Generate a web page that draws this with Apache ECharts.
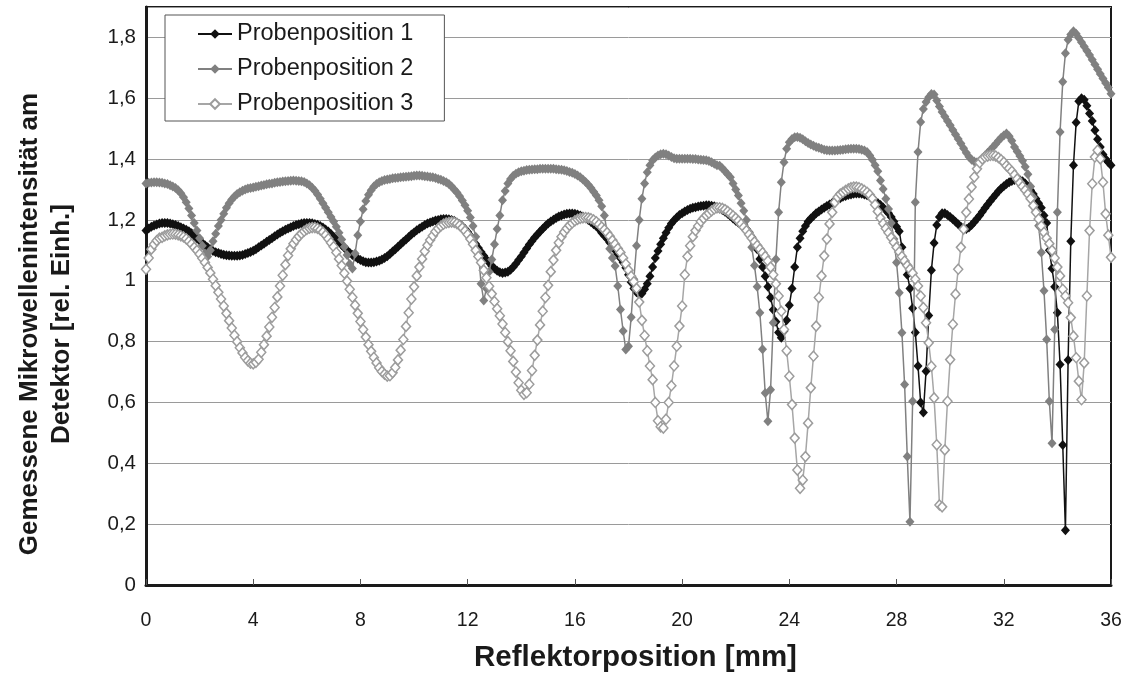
<!DOCTYPE html>
<html>
<head>
<meta charset="utf-8">
<script src="https://cdn.jsdelivr.net/npm/echarts@6/dist/echarts.min.js"></script>
<style>
html,body{margin:0;padding:0;background:#fff;}
#chart{width:1130px;height:673px;}
</style>
</head>
<body>
<div id="chart"></div>
<script>
// Sampling positions of the reflector (mm): start and step of the measurement grid
const xStart = 0;
const xStep = 0.1;

const seriesNames = ['Probenposition 1', 'Probenposition 2', 'Probenposition 3'];
const xTickValues = [0, 4, 8, 12, 16, 20, 24, 28, 32, 36];
const yTickValues = [0, 0.2, 0.4, 0.6, 0.8, 1, 1.2, 1.4, 1.6, 1.8];

const probe1 = [
1.165,1.172,1.178,1.182,1.185,1.188,1.19,1.19,1.19,1.188,
1.186,1.183,1.18,1.176,1.172,1.168,1.163,1.156,1.148,1.14,
1.132,1.124,1.117,1.11,1.104,1.098,1.094,1.091,1.088,1.086,
1.084,1.083,1.082,1.082,1.082,1.083,1.085,1.088,1.091,1.095,
1.099,1.104,1.11,1.116,1.122,1.128,1.134,1.14,1.146,1.152,
1.158,1.163,1.168,1.172,1.176,1.18,1.183,1.186,1.188,1.19,
1.19,1.19,1.189,1.187,1.184,1.18,1.175,1.169,1.162,1.154,
1.145,1.136,1.127,1.118,1.109,1.1,1.092,1.085,1.079,1.073,
1.068,1.064,1.061,1.06,1.06,1.061,1.063,1.066,1.07,1.075,
1.081,1.088,1.096,1.104,1.112,1.12,1.128,1.136,1.144,1.152,
1.159,1.166,1.172,1.178,1.183,1.188,1.192,1.195,1.198,1.2,
1.202,1.203,1.203,1.202,1.2,1.197,1.192,1.186,1.179,1.17,
1.16,1.148,1.135,1.121,1.108,1.095,1.082,1.07,1.06,1.049,
1.04,1.033,1.028,1.026,1.027,1.03,1.036,1.045,1.056,1.068,
1.08,1.093,1.106,1.119,1.131,1.142,1.152,1.162,1.171,1.18,
1.188,1.195,1.201,1.206,1.211,1.215,1.218,1.22,1.221,1.221,
1.22,1.218,1.215,1.211,1.206,1.2,1.193,1.186,1.179,1.17,
1.158,1.148,1.138,1.126,1.113,1.1,1.087,1.074,1.06,1.043,
1.02,0.995,0.975,0.962,0.956,0.958,0.972,0.99,1.015,1.045,
1.075,1.098,1.12,1.14,1.158,1.174,1.188,1.199,1.208,1.216,
1.222,1.228,1.233,1.237,1.24,1.242,1.244,1.246,1.247,1.248,
1.248,1.247,1.245,1.242,1.238,1.233,1.227,1.22,1.213,1.205,
1.197,1.191,1.185,1.179,1.17,1.158,1.144,1.125,1.104,1.072,
1.045,1.015,0.98,0.945,0.905,0.865,0.83,0.813,0.835,0.87,
0.92,0.975,1.045,1.11,1.14,1.163,1.18,1.195,1.205,1.213,
1.222,1.228,1.234,1.24,1.246,1.251,1.256,1.261,1.266,1.271,
1.276,1.279,1.282,1.284,1.286,1.287,1.287,1.286,1.284,1.281,
1.277,1.27,1.263,1.256,1.249,1.241,1.232,1.222,1.21,1.195,
1.178,1.163,1.11,1.06,1.02,0.975,0.91,0.83,0.72,0.60,
0.567,0.703,0.886,1.035,1.124,1.183,1.21,1.222,1.222,1.216,
1.21,1.202,1.194,1.186,1.178,1.172,1.17,1.175,1.183,1.193,
1.204,1.215,1.227,1.239,1.251,1.262,1.273,1.284,1.294,1.303,
1.311,1.318,1.324,1.328,1.331,1.332,1.331,1.327,1.32,1.31,
1.298,1.285,1.27,1.255,1.24,1.215,1.19,1.10,1.04,0.98,
0.895,0.725,0.46,0.18,0.74,1.13,1.38,1.52,1.59,1.60,
1.595,1.575,1.55,1.525,1.495,1.465,1.44,1.415,1.40,1.39,
1.38
];

const probe2 = [
1.32,1.322,1.323,1.324,1.324,1.323,1.322,1.32,1.318,1.314,
1.31,1.305,1.298,1.288,1.275,1.258,1.238,1.215,1.19,1.165,
1.14,1.115,1.09,1.08,1.10,1.13,1.155,1.18,1.2,1.22,
1.24,1.255,1.267,1.277,1.285,1.291,1.296,1.3,1.303,1.305,
1.307,1.309,1.311,1.313,1.315,1.317,1.319,1.32,1.322,1.324,
1.325,1.326,1.327,1.328,1.329,1.33,1.329,1.328,1.327,1.325,
1.32,1.314,1.306,1.296,1.284,1.27,1.255,1.24,1.225,1.21,
1.195,1.178,1.158,1.136,1.112,1.085,1.055,1.04,1.09,1.15,
1.195,1.235,1.262,1.283,1.298,1.31,1.318,1.324,1.328,1.331,
1.333,1.335,1.337,1.338,1.339,1.34,1.341,1.342,1.343,1.344,
1.345,1.346,1.346,1.345,1.344,1.343,1.341,1.34,1.338,1.335,
1.332,1.328,1.324,1.318,1.31,1.3,1.29,1.278,1.264,1.248,
1.23,1.208,1.18,1.145,1.095,0.99,0.935,0.975,1.03,1.07,
1.12,1.17,1.215,1.265,1.295,1.32,1.335,1.345,1.352,1.357,
1.36,1.362,1.364,1.365,1.366,1.367,1.367,1.368,1.368,1.368,
1.368,1.368,1.368,1.367,1.366,1.365,1.363,1.361,1.358,1.355,
1.351,1.346,1.34,1.333,1.325,1.316,1.305,1.293,1.28,1.265,
1.245,1.215,1.16,1.105,1.075,1.049,0.983,0.906,0.835,0.774,
0.785,0.88,1.005,1.115,1.2,1.27,1.32,1.357,1.38,1.396,
1.405,1.412,1.416,1.418,1.416,1.412,1.407,1.403,1.401,1.401,
1.401,1.401,1.401,1.401,1.4,1.4,1.399,1.398,1.397,1.396,
1.394,1.39,1.385,1.38,1.378,1.37,1.36,1.35,1.34,1.32,
1.30,1.28,1.255,1.23,1.2,1.16,1.11,1.05,0.98,0.895,
0.775,0.631,0.538,0.642,0.862,1.071,1.225,1.324,1.39,1.434,
1.455,1.466,1.472,1.473,1.47,1.465,1.459,1.453,1.448,1.444,
1.44,1.437,1.434,1.431,1.429,1.428,1.428,1.428,1.429,1.43,
1.431,1.432,1.433,1.434,1.434,1.434,1.433,1.431,1.428,1.423,
1.412,1.398,1.38,1.36,1.33,1.302,1.27,1.236,1.19,1.137,
1.06,0.961,0.829,0.659,0.422,0.208,0.604,1.258,1.423,1.522,
1.565,1.588,1.603,1.614,1.612,1.593,1.573,1.555,1.54,1.525,
1.511,1.496,1.481,1.466,1.451,1.436,1.421,1.408,1.398,1.392,
1.39,1.395,1.403,1.412,1.421,1.43,1.44,1.45,1.46,1.47,
1.478,1.484,1.475,1.46,1.44,1.425,1.41,1.395,1.375,1.35,
1.31,1.275,1.23,1.181,1.093,0.967,0.807,0.604,0.466,0.84,
1.225,1.489,1.654,1.748,1.792,1.81,1.82,1.812,1.798,1.784,
1.77,1.756,1.742,1.727,1.711,1.695,1.68,1.665,1.65,1.635,
1.615
];

const probe3 = [
1.038,1.075,1.104,1.12,1.132,1.14,1.143,1.148,1.151,1.153,
1.154,1.153,1.151,1.148,1.144,1.138,1.13,1.121,1.11,1.1,
1.088,1.074,1.06,1.044,1.026,1.005,0.984,0.962,0.94,0.917,
0.893,0.869,0.845,0.821,0.8,0.78,0.763,0.748,0.737,0.729,
0.727,0.732,0.742,0.765,0.79,0.818,0.848,0.88,0.912,0.947,
0.983,1.018,1.053,1.083,1.105,1.122,1.135,1.146,1.155,1.163,
1.169,1.173,1.175,1.175,1.172,1.167,1.16,1.15,1.138,1.125,
1.112,1.093,1.072,1.05,1.025,0.999,0.972,0.946,0.92,0.893,
0.866,0.84,0.815,0.79,0.768,0.748,0.73,0.714,0.702,0.693,
0.687,0.688,0.698,0.715,0.74,0.772,0.807,0.85,0.895,0.94,
0.98,1.016,1.045,1.072,1.097,1.117,1.134,1.148,1.162,1.172,
1.18,1.186,1.19,1.192,1.193,1.192,1.188,1.182,1.174,1.164,
1.152,1.137,1.12,1.1,1.08,1.06,1.035,1.01,0.982,0.957,
0.932,0.908,0.885,0.858,0.83,0.8,0.77,0.735,0.7,0.665,
0.64,0.627,0.632,0.66,0.705,0.755,0.805,0.855,0.9,0.945,
0.985,1.03,1.068,1.1,1.125,1.145,1.16,1.172,1.182,1.19,
1.197,1.202,1.205,1.207,1.208,1.207,1.204,1.2,1.194,1.186,
1.177,1.168,1.158,1.146,1.133,1.12,1.106,1.093,1.075,1.055,
1.035,1.015,0.997,0.975,0.93,0.87,0.82,0.77,0.72,0.675,
0.6,0.54,0.52,0.516,0.545,0.6,0.655,0.72,0.785,0.851,
0.917,1.02,1.08,1.115,1.145,1.165,1.18,1.195,1.205,1.215,
1.222,1.23,1.236,1.24,1.24,1.238,1.234,1.228,1.221,1.214,
1.206,1.197,1.187,1.176,1.165,1.152,1.14,1.128,1.116,1.104,
1.092,1.08,1.065,1.045,1.02,0.99,0.95,0.9,0.84,0.77,
0.686,0.593,0.483,0.378,0.318,0.345,0.422,0.532,0.648,0.752,
0.851,0.945,1.016,1.082,1.137,1.187,1.225,1.258,1.275,1.285,
1.291,1.297,1.302,1.306,1.308,1.308,1.306,1.302,1.297,1.291,
1.283,1.27,1.25,1.228,1.206,1.188,1.172,1.158,1.142,1.126,
1.11,1.095,1.08,1.065,1.05,1.038,1.025,1.005,0.983,0.95,
0.912,0.862,0.796,0.719,0.615,0.461,0.263,0.257,0.444,0.604,
0.741,0.857,0.956,1.038,1.11,1.17,1.225,1.269,1.308,1.341,
1.368,1.388,1.4,1.407,1.41,1.412,1.412,1.41,1.405,1.398,
1.39,1.378,1.37,1.36,1.348,1.335,1.322,1.31,1.298,1.285,
1.27,1.247,1.225,1.203,1.18,1.159,1.14,1.122,1.1,1.075,
1.045,1.016,0.972,0.95,0.928,0.879,0.818,0.747,0.67,0.609,
0.73,0.95,1.165,1.319,1.407,1.429,1.401,1.324,1.22,1.15,
1.077
];

function pairs(values) {
  return values.map(function (v, i) { return [+(xStart + i * xStep).toFixed(1), v]; });
}
function fmtNum(v) {
  if (Math.abs(v - Math.round(v)) < 1e-9) return String(Math.round(v));
  return v.toFixed(1).replace('.', ',');
}

const FONT = '"Liberation Sans", Arial, sans-serif';
const chart = echarts.init(document.getElementById('chart'), null, {renderer: 'canvas'});

chart.setOption({
  animation: false,
  backgroundColor: '#ffffff',
  textStyle: {fontFamily: FONT, color: '#1a1a1a'},
  grid: {left: 146, right: 19, top: 7, bottom: 88, containLabel: false, outerBoundsMode: 'none',
    show: true, borderColor: '#1a1a1a', borderWidth: 2, backgroundColor: 'transparent'},
  legend: {
    orient: 'vertical', left: 165, top: 15,
    padding: [7, 31, 5, 32], itemGap: 11, itemWidth: 34, itemHeight: 12,
    borderColor: '#555', borderWidth: 1, backgroundColor: '#ffffff',
    textStyle: {fontSize: 23.5, color: '#1a1a1a', fontFamily: FONT},
    data: seriesNames
  },
  xAxis: {
    type: 'value', min: xTickValues[0], max: xTickValues[xTickValues.length - 1], interval: 4,
    name: 'Reflektorposition [mm]', nameLocation: 'middle', nameGap: 58,
    nameTextStyle: {fontSize: 29.5, fontWeight: 'bold', color: '#1a1a1a', fontFamily: FONT, padding: [0, 0, 0, 14]},
    axisLine: {show: true, onZero: false, lineStyle: {color: '#1a1a1a', width: 3}},
    axisTick: {show: true, inside: true, length: 6, lineStyle: {color: '#555', width: 1}},
    axisLabel: {fontSize: 19.5, color: '#1a1a1a', margin: 26, fontFamily: FONT,
      formatter: function (v) { return xTickValues.indexOf(v) >= 0 ? String(v) : ''; }},
    splitLine: {show: false}
  },
  yAxis: {
    type: 'value', min: 0, max: 1.9, interval: 0.2,
    name: 'Gemessene Mikrowellenintensität am\nDetektor [rel. Einh.]',
    nameLocation: 'middle', nameRotate: 90, nameGap: 68,
    nameTextStyle: {fontSize: 26, fontWeight: 'bold', color: '#1a1a1a', fontFamily: FONT, lineHeight: 32, padding: [0, 56, 0, 0]},
    axisLine: {show: true, onZero: false, lineStyle: {color: '#1a1a1a', width: 3}},
    axisTick: {show: false},
    axisLabel: {fontSize: 20.5, color: '#1a1a1a', margin: 10, fontFamily: FONT,
      formatter: function (v) {
        for (let i = 0; i < yTickValues.length; i++) {
          if (Math.abs(yTickValues[i] - v) < 1e-6) return fmtNum(yTickValues[i]);
        }
        return '';
      }},
    splitLine: {show: true, lineStyle: {color: '#9a9a9a', width: 1}}
  },
  series: [
    {
      name: seriesNames[0], type: 'line', data: pairs(probe1),
      symbol: 'diamond', symbolSize: [9, 10], showAllSymbol: true,
      lineStyle: {color: '#111111', width: 1.5},
      itemStyle: {color: '#111111', borderWidth: 0},
      z: 2
    },
    {
      name: seriesNames[1], type: 'line', data: pairs(probe2),
      symbol: 'diamond', symbolSize: [9, 10], showAllSymbol: true,
      lineStyle: {color: '#808080', width: 1.5},
      itemStyle: {color: '#808080', borderWidth: 0},
      z: 3
    },
    {
      name: seriesNames[2], type: 'line', data: pairs(probe3),
      symbol: 'diamond', symbolSize: [9, 10], showAllSymbol: true,
      lineStyle: {color: '#a6a6a6', width: 1.5},
      itemStyle: {color: '#ffffff', borderColor: '#9c9c9c', borderWidth: 1.5},
      z: 4
    }
  ]
});
</script>
</body>
</html>
